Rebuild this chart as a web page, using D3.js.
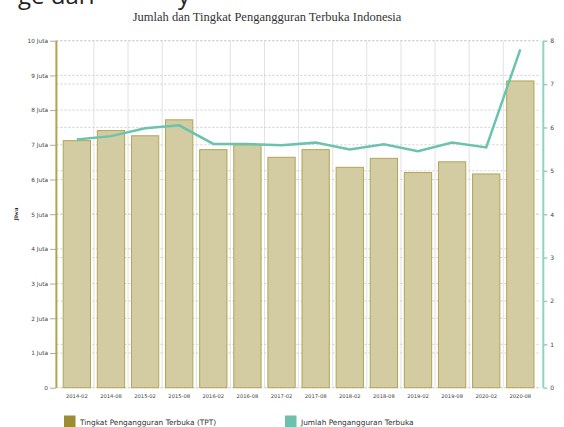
<!DOCTYPE html>
<html>
<head>
<meta charset="utf-8">
<script src="https://cdn.jsdelivr.net/npm/d3@7"></script>
<style>
  body { margin: 0; background: #fff; }
  svg { display: block; }
</style>
</head>
<body>
<script>
let periods = ["2014-02", "2014-08", "2015-02", "2015-08", "2016-02", "2016-08", "2017-02",
    "2017-08", "2018-02", "2018-08", "2019-02", "2019-08", "2020-02", "2020-08"];
// jumlah (juta jiwa) - bars, left axis
let jumlah = [7.12, 7.41, 7.26, 7.72, 6.86, 7.0, 6.64, 6.86, 6.35, 6.61, 6.2, 6.51, 6.16, 8.84];
// tingkat (%) - line, right axis
let tingkat = [5.72, 5.8, 5.98, 6.05, 5.62, 5.62, 5.59, 5.65, 5.49, 5.61, 5.45, 5.65, 5.54, 7.8];
let leftTicks = [0, 1, 2, 3, 4, 5, 6, 7, 8, 9, 10];
let rightTicks = [0, 1, 2, 3, 4, 5, 6, 7, 8];
let legendNames = ["Tingkat Pengangguran Terbuka (TPT)", "Jumlah Pengangguran Terbuka"];

let w = 564;
let h = 427;
let plotTop = 40.7, plotBottom = 387.7;
let plotLeft = 56.4, plotRight = 540.8;

const svg = d3.select('body')
    .append('svg')
    .attr('width', w)
    .attr('height', h);

// cut-off text from the page above
svg.append("text").attr("x", 18).attr("y", 4).text("ge dari")
    .style("font-family", "Open Sans").style("font-size", "24px").attr("fill", "#222");
svg.append("text").attr("x", 178).attr("y", 4).text("y")
    .style("font-family", "Open Sans").style("font-size", "24px").attr("fill", "#222");

svg.append("text")
    .attr("x", 267)
    .attr("y", 21)
    .attr("text-anchor", "middle")
    .text("Jumlah dan Tingkat Pengangguran Terbuka Indonesia")
    .style("font-family", "Liberation Serif").style("font-size", "12.5px").attr("fill", "#333");

const xScale = d3.scaleBand()
    .domain(periods)
    .range([plotLeft, plotRight])
    .padding(0.2);

const yLeft = d3.scaleLinear().domain([0, 10]).range([plotBottom, plotTop]);
const yRight = d3.scaleLinear().domain([0, 8]).range([plotBottom, plotTop]);

// vertical grid
svg.append("g").selectAll("line")
    .data(periods.slice(1))
    .enter().append("line")
    .attr("x1", d => xScale(d) - xScale.step() * xScale.paddingInner() / 2)
    .attr("x2", d => xScale(d) - xScale.step() * xScale.paddingInner() / 2)
    .attr("y1", plotTop).attr("y2", plotBottom)
    .attr("stroke", "#e2e2e2").attr("stroke-width", 1);

// horizontal dashed grid (both axes)
svg.append("g").selectAll("line")
    .data(leftTicks)
    .enter().append("line")
    .attr("x1", plotLeft).attr("x2", plotRight)
    .attr("y1", d => yLeft(d)).attr("y2", d => yLeft(d))
    .attr("stroke", "#d0d0d0").attr("stroke-dasharray", "2,2");
svg.append("g").selectAll("line")
    .data(rightTicks)
    .enter().append("line")
    .attr("x1", plotLeft).attr("x2", plotRight)
    .attr("y1", d => yRight(d)).attr("y2", d => yRight(d))
    .attr("stroke", "#d0d0d0").attr("stroke-dasharray", "2,2");

// bars
svg.append("g").selectAll("rect")
    .data(jumlah)
    .enter().append("rect")
    .attr("x", (d, i) => xScale(periods[i]))
    .attr("y", d => yLeft(d))
    .attr("width", xScale.bandwidth())
    .attr("height", d => plotBottom - yLeft(d))
    .attr("fill", "#d3cba1")
    .attr("stroke", "#b2a556")
    .attr("stroke-width", 1);

// line
const line = d3.line()
    .x((d, i) => xScale(periods[i]) + xScale.bandwidth() / 2)
    .y(d => yRight(d));
svg.append("path")
    .datum(tingkat)
    .attr("d", line)
    .attr("fill", "none")
    .attr("stroke", "#6cc3ad")
    .attr("stroke-width", 2.5);

// left axis
const yAxisL = d3.axisLeft(yLeft).tickValues(leftTicks)
    .tickFormat(d => d === 0 ? "0" : d + " Juta").tickSize(6).tickPadding(2);
const gl = svg.append("g")
    .attr("transform", "translate(" + (plotLeft - 0.4) + ",0)")
    .call(yAxisL);
gl.select(".domain").remove();
gl.selectAll(".tick line").attr("stroke", "#aaa");
gl.selectAll("text").attr("fill", "#444").style("font-family", "DejaVu Sans").style("font-size", "5.8px");
svg.append("line")
    .attr("x1", plotLeft).attr("x2", plotLeft).attr("y1", plotTop).attr("y2", plotBottom)
    .attr("stroke", "#b3a449").attr("stroke-width", 2);

// right axis
const yAxisR = d3.axisRight(yRight).tickValues(rightTicks).tickSize(4).tickPadding(3);
const gr = svg.append("g")
    .attr("transform", "translate(543.3,0)")
    .call(yAxisR);
gr.select(".domain").remove();
gr.selectAll(".tick line").attr("stroke", "#8fd3c3").attr("stroke-width", 1.5);
gr.selectAll("text").attr("fill", "#444").style("font-family", "DejaVu Sans").style("font-size", "6px");
svg.append("line")
    .attr("x1", 543.3).attr("x2", 543.3).attr("y1", plotTop).attr("y2", plotBottom)
    .attr("stroke", "#8fd3c3").attr("stroke-width", 2);

// x axis labels
const xAxis = d3.axisBottom(xScale).tickSize(0).tickPadding(7);
const gx = svg.append("g")
    .attr("transform", "translate(0," + plotBottom + ")")
    .call(xAxis);
gx.select(".domain").remove();
gx.selectAll("text").attr("fill", "#444").style("font-family", "DejaVu Sans").style("font-size", "5.2px");

// y title
svg.append("text")
    .attr("transform", "translate(18,214) rotate(-90)")
    .attr("text-anchor", "middle")
    .text("jiwa")
    .style("font-family", "Liberation Serif").style("font-weight", "bold").style("font-size", "7px").attr("fill", "#222");

// legend
let legendColors = ["#9c8c33", "#6cc0ac"];
let legendX = [64, 285];
let legend = svg.append("g");
legend.selectAll("rect")
    .data(legendNames)
    .enter().append("rect")
    .attr("x", (d, i) => legendX[i]).attr("y", 415.5)
    .attr("width", 11.5).attr("height", 11.5)
    .attr("fill", (d, i) => legendColors[i]);
legend.selectAll("text")
    .data(legendNames)
    .enter().append("text")
    .attr("x", (d, i) => legendX[i] + 16).attr("y", 424.5)
    .text(d => d)
    .style("font-family", "DejaVu Sans").style("font-size", "7.4px").attr("fill", "#333");
</script>
</body>
</html>
